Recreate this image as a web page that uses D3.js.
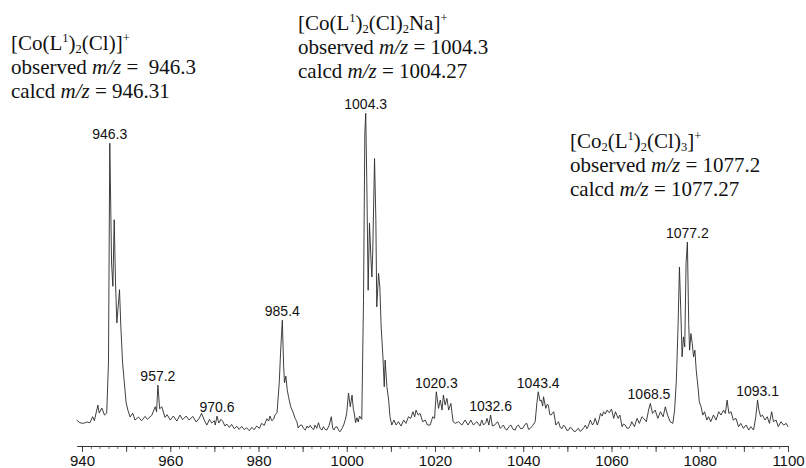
<!DOCTYPE html>
<html>
<head>
<meta charset="utf-8">
<script src="https://d3js.org/d3.v7.min.js"></script>
<style>
  body { margin: 0; background: #fff; }
  svg { display: block; }
</style>
</head>
<body>
<svg id="canvas"></svg>
<script>
// Spectrum trace (m/z, relative intensity %)
var spectrumMz = [
  938.8, 939.5, 940.3, 941.1, 941.8, 942.4, 942.8, 943.6, 943.9, 944.5, 945.1, 945.6,
  946.0, 946.3, 946.7, 947.0, 947.3, 947.6, 947.9, 948.5, 948.8, 949.2, 949.6, 950.0,
  950.4, 950.9, 951.5, 952.0, 952.8, 953.5, 954.3, 954.8, 955.8, 956.6, 956.9, 957.2,
  957.6, 958.1, 958.8, 959.3, 960.0, 960.7, 961.5, 962.2, 962.8, 963.6, 964.3, 965.1,
  965.9, 966.6, 967.1, 967.8, 968.3, 968.9, 969.4, 970.0, 970.2, 970.6, 971.0, 971.5,
  971.9, 972.4, 972.8, 973.4, 973.9, 974.5, 975.1, 975.6, 976.2, 976.8, 977.3, 977.9,
  978.5, 979.0, 979.6, 980.2, 980.7, 981.3, 981.9, 982.3, 982.6, 983.0, 983.4, 983.8,
  984.2, 984.7, 985.0, 985.4, 985.7, 985.9, 986.2, 986.5, 986.8, 987.3, 987.9, 988.3,
  988.7, 989.0, 989.4, 989.8, 990.2, 990.6, 991.0, 991.3, 991.7, 992.1, 992.5, 992.8,
  993.2, 993.6, 994.0, 994.4, 994.7, 995.1, 995.5, 996.0, 996.5, 996.8, 997.1, 997.4,
  997.8, 998.2, 998.5, 998.9, 999.3, 999.7, 1000.0, 1000.4, 1000.8, 1001.2, 1001.5, 1001.7,
  1002.0, 1002.3, 1002.6, 1002.9, 1003.4, 1003.8, 1004.1, 1004.3, 1004.55, 1004.85, 1005.15, 1005.5,
  1005.7, 1005.9, 1006.3, 1006.6, 1006.8, 1007.2, 1007.5, 1007.8, 1008.2, 1008.5, 1008.7, 1009.1,
  1009.5, 1009.8, 1010.2, 1010.7, 1011.2, 1011.7, 1012.3, 1012.9, 1013.4, 1014.0, 1014.5, 1015.0,
  1015.4, 1015.7, 1016.2, 1016.6, 1017.2, 1017.8, 1018.3, 1018.9, 1019.5, 1019.9, 1020.3, 1020.8,
  1021.2, 1021.6, 1021.9, 1022.3, 1022.7, 1023.1, 1023.6, 1024.1, 1024.6, 1025.3, 1026.1, 1026.8,
  1027.5, 1028.1, 1028.7, 1029.5, 1030.2, 1030.6, 1031.0, 1031.5, 1031.8, 1032.2, 1032.6, 1033.0,
  1033.5, 1034.2, 1034.8, 1035.5, 1036.0, 1036.3, 1036.8, 1037.2, 1037.7, 1038.2, 1038.5, 1038.9,
  1039.4, 1039.9, 1040.4, 1040.8, 1041.2, 1041.6, 1042.1, 1042.7, 1043.1, 1043.4, 1043.8, 1044.1,
  1044.4, 1044.6, 1045.1, 1045.4, 1045.7, 1046.0, 1046.3, 1046.9, 1047.4, 1048.0, 1048.4, 1048.8,
  1049.1, 1049.5, 1049.9, 1050.3, 1050.6, 1051.0, 1051.4, 1051.8, 1052.2, 1052.5, 1052.9, 1053.3,
  1053.7, 1054.1, 1054.4, 1054.7, 1055.2, 1055.7, 1056.0, 1056.3, 1056.8, 1057.2, 1057.5, 1057.9,
  1058.2, 1058.6, 1059.0, 1059.5, 1060.0, 1060.5, 1060.9, 1061.5, 1061.9, 1062.4, 1062.7, 1063.1,
  1063.5, 1063.9, 1064.3, 1064.6, 1065.2, 1065.8, 1066.3, 1066.9, 1067.3, 1067.9, 1068.4, 1068.8,
  1069.3, 1069.9, 1070.5, 1071.1, 1071.7, 1072.2, 1072.7, 1073.3, 1073.9, 1074.3, 1074.7, 1075.1,
  1075.4, 1075.7, 1076.0, 1076.3, 1076.6, 1076.9, 1077.2, 1077.5, 1077.7, 1078.0, 1078.3, 1078.6,
  1078.9, 1079.2, 1079.6, 1079.9, 1080.3, 1080.7, 1081.1, 1081.6, 1082.0, 1082.5, 1083.1, 1083.7,
  1084.3, 1084.8, 1085.4, 1085.8, 1086.2, 1086.6, 1087.1, 1087.6, 1088.2, 1088.8, 1089.3, 1089.9,
  1090.5, 1091.1, 1091.6, 1092.2, 1092.7, 1093.1, 1093.4, 1093.8, 1094.2, 1094.8, 1095.3, 1095.8,
  1096.3, 1096.7, 1097.3, 1097.8, 1098.4, 1099.0, 1099.6, 1100.0
];
var spectrumIntensity = [
  7.8, 7.0, 6.8, 7.2, 7.0, 8.8, 7.6, 12.3, 9.9, 11.4, 9.3, 9.9,
  25, 91, 55, 48, 68, 49, 37, 47, 36, 25, 19, 13,
  10.8, 8.7, 9.9, 7.8, 8.7, 7.6, 8.9, 8.0, 9.2, 11.8, 10.3, 18.3,
  11.2, 11.8, 8.6, 9.4, 7.8, 9.0, 7.5, 9.3, 7.9, 9.0, 7.8, 8.9,
  7.2, 8.4, 9.8, 7.5, 6.3, 8.0, 6.9, 7.6, 6.3, 9.0, 6.9, 8.0,
  7.4, 6.0, 6.6, 5.6, 6.5, 5.2, 5.9, 5.0, 5.9, 4.9, 5.5, 4.6,
  5.6, 4.9, 6.0, 5.3, 6.8, 6.2, 8.2, 7.5, 9.0, 7.6, 8.0, 9.5,
  10.0, 19, 28, 37.8, 24, 19, 21, 17, 14.8, 11.8, 9.9, 8.3,
  7.3, 5.4, 6.2, 6.3, 5.3, 4.8, 6.0, 5.4, 6.2, 5.4, 4.9, 6.3,
  5.3, 7.0, 5.2, 4.8, 5.8, 5.0, 4.8, 6.2, 8.8, 5.4, 4.8, 5.6,
  5.8, 4.6, 4.3, 5.2, 6.3, 8.0, 10.0, 15.9, 11.8, 15.3, 11.0, 9.9,
  7.0, 8.5, 7.2, 9.0, 8.0, 43.8, 94, 100, 79, 46.8, 67, 55.9,
  50.8, 58.9, 86.4, 67.9, 41.8, 51.9, 47.8, 35.8, 26.8, 17.8, 25.8, 17.8,
  13.8, 8.8, 6.3, 7.8, 6.3, 7.3, 6.0, 7.8, 6.8, 8.8, 8.3, 10.3,
  8.8, 10.8, 9.3, 9.8, 7.3, 7.8, 6.3, 6.3, 8.8, 8.3, 16.3, 11.3,
  13.8, 10.8, 15.3, 12.3, 14.3, 10.8, 12.8, 7.3, 6.8, 7.3, 6.3, 7.8,
  6.3, 7.8, 6.3, 7.3, 6.0, 7.8, 6.3, 7.0, 8.3, 6.3, 9.3, 6.0,
  6.3, 7.3, 5.3, 6.3, 5.0, 4.8, 5.9, 6.3, 5.0, 4.8, 5.9, 6.3,
  5.2, 5.3, 6.5, 6.8, 5.0, 5.3, 6.1, 7.3, 13.0, 16.3, 13.5, 13.8,
  12.0, 14.8, 11.3, 12.5, 12.3, 9.5, 9.3, 10.3, 6.3, 7.3, 5.5, 5.3,
  6.2, 5.8, 4.7, 4.8, 5.6, 5.3, 4.5, 4.3, 5.0, 5.3, 4.4, 4.8,
  5.5, 6.3, 5.2, 5.8, 7.8, 6.3, 7.0, 8.3, 6.3, 8.0, 9.8, 9.0,
  10.3, 9.6, 10.8, 10.0, 11.1, 8.3, 10.3, 8.3, 9.3, 5.8, 6.6, 6.3,
  5.4, 5.3, 6.2, 7.3, 5.8, 8.3, 6.8, 8.8, 8.3, 7.3, 10.8, 12.8,
  9.8, 10.8, 8.3, 10.3, 8.8, 11.8, 9.3, 7.3, 6.8, 10.8, 19.8, 36.8,
  53.8, 40.8, 26.8, 32.8, 29.8, 54.9, 61.3, 36.8, 28.8, 33.8, 30.8, 26.8,
  28.8, 22.8, 17.8, 13.3, 11.8, 9.3, 10.3, 7.8, 8.8, 7.3, 9.3, 7.8,
  10.3, 9.3, 10.8, 9.8, 13.8, 9.8, 10.3, 7.8, 8.3, 5.8, 6.8, 5.3,
  6.3, 4.8, 5.8, 4.8, 8.8, 13.8, 10.8, 8.8, 9.3, 7.8, 8.8, 6.8,
  10.3, 7.3, 7.8, 5.8, 7.3, 6.3, 6.8, 5.8
];

// Labelled peaks
var peakLabelMz = [946.3, 957.2, 970.6, 985.4, 1004.3, 1020.3, 1032.6, 1043.4, 1068.5, 1077.2, 1093.1];

// Axis ticks
var tickLabelValues = [940, 960, 980, 1000, 1020, 1040, 1060, 1080, 1100];

// Ion annotations: formula pieces ('' normal, 'sup', 'sub'), observed and calculated m/z
var ionFormulas = [
  [['[Co(L', ''], ['1', 'sup'], [')', ''], ['2', 'sub'], ['(Cl)]', ''], ['+', 'sup']],
  [['[Co(L', ''], ['1', 'sup'], [')', ''], ['2', 'sub'], ['(Cl)', ''], ['2', 'sub'], ['Na]', ''], ['+', 'sup']],
  [['[Co', ''], ['2', 'sub'], ['(L', ''], ['1', 'sup'], [')', ''], ['2', 'sub'], ['(Cl)', ''], ['3', 'sub'], [']', ''], ['+', 'sup']]
];
var ionObserved = [' 946.3', '1004.3', '1077.2'];
var ionCalcd = ['946.31', '1004.27', '1077.27'];

var canvasWidth = 806;
var canvasHeight = 468;

var svg = d3.select('#canvas')
  .attr('width', canvasWidth)
  .attr('height', canvasHeight);

var xScale = d3.scaleLinear()
  .domain([938.8, 1100])
  .range([76.7, 788]);

var yScale = d3.scaleLinear()
  .domain([0, 100])
  .range([446, 113.3]);

var points = spectrumMz.map(function(m, i) {
  return { mz: m, intensity: spectrumIntensity[i] };
});

// Trace
var line = d3.line()
  .x(function(d) { return xScale(d.mz); })
  .y(function(d) { return yScale(d.intensity); });

svg.append('path')
  .datum(points)
  .attr('d', line)
  .attr('fill', 'none')
  .attr('stroke', '#2a2a2a')
  .attr('stroke-width', 0.9)
  .attr('stroke-linejoin', 'round');

// Minor ticks every 2
var minorAxis = d3.axisBottom(xScale)
  .tickValues(d3.range(940, 1101, 2))
  .tickSize(3)
  .tickSizeOuter(0)
  .tickFormat('');

svg.append('g')
  .attr('transform', 'translate(0,446)')
  .call(minorAxis)
  .call(function(g) {
    g.select('.domain').attr('stroke', '#333').attr('stroke-width', 1);
    g.selectAll('.tick line').attr('stroke', '#444').attr('stroke-width', 0.8);
  });

// Major ticks every 10, labels every 20
var majorAxis = d3.axisBottom(xScale)
  .tickValues(d3.range(940, 1101, 10))
  .tickSize(6)
  .tickSizeOuter(0)
  .tickPadding(3)
  .tickFormat(function(d) {
    return tickLabelValues.indexOf(d) >= 0 ? d : '';
  });

svg.append('g')
  .attr('transform', 'translate(0,446)')
  .call(majorAxis)
  .call(function(g) {
    g.select('.domain').remove();
    g.selectAll('.tick line').attr('stroke', '#333').attr('stroke-width', 0.9);
    g.selectAll('.tick text')
      .attr('font-family', 'Liberation Sans, Arial, sans-serif')
      .attr('font-size', 15)
      .attr('fill', '#111');
  });

// Peak labels, a little above the local maximum
svg.append('g')
  .selectAll('text')
  .data(peakLabelMz)
  .enter()
  .append('text')
  .attr('x', function(d) { return xScale(d); })
  .attr('y', function(d) {
    var near = points.filter(function(p) { return Math.abs(p.mz - d) <= 0.7; });
    return yScale(d3.max(near, function(p) { return p.intensity; })) - 4;
  })
  .attr('text-anchor', 'middle')
  .attr('font-family', 'Liberation Sans, Arial, sans-serif')
  .attr('font-size', 14)
  .attr('fill', '#111')
  .text(function(d) { return d.toFixed(1); });

// Ion annotations
var annoLeft = [11, 298, 570];
var annoTop = [50, 30, 148];
var annoSize = 21;
var annoGaps = [24.3, 23.3];

ionFormulas.forEach(function(segs, i) {
  var g = svg.append('g')
    .attr('font-family', 'Liberation Serif, Times New Roman, serif')
    .attr('font-size', annoSize)
    .attr('fill', '#111');

  var t = g.append('text')
    .attr('x', annoLeft[i])
    .attr('y', annoTop[i]);
  var shift = 0;
  segs.forEach(function(s) {
    var target = s[1] === 'sup' ? -8 : (s[1] === 'sub' ? 3 : 0);
    var ts = t.append('tspan')
      .attr('dy', target - shift)
      .text(s[0]);
    if (s[1] !== '') ts.attr('font-size', 12.5);
    shift = target;
  });

  var rows = [['observed ', ' = ' + ionObserved[i]], ['calcd ', ' = ' + ionCalcd[i]]];
  var y = annoTop[i];
  rows.forEach(function(r, k) {
    y += annoGaps[k];
    var tt = g.append('text')
      .attr('x', annoLeft[i])
      .attr('y', y)
      .style('white-space', 'pre');
    tt.append('tspan').text(r[0]);
    tt.append('tspan').attr('font-style', 'italic').text('m/z');
    tt.append('tspan').text(r[1]);
  });
});
</script>
</body>
</html>
